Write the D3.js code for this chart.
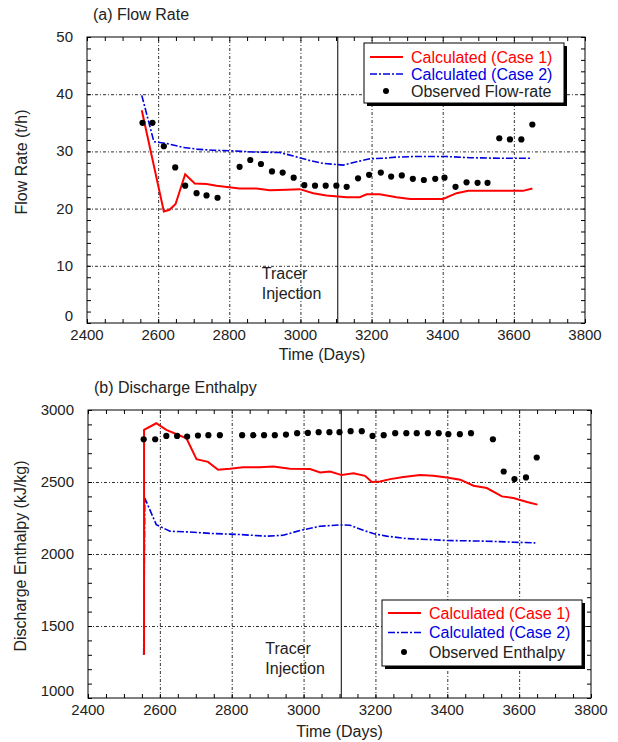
<html><head>
<meta charset="utf-8">
<title>Flow rate and discharge enthalpy</title>
<style type="text/css">
    body {margin:0; background:#fff}
    text {font-family:"Liberation Sans", Arial, sans-serif; fill:#222}
</style>
</head>
<body>
<script src="https://d3js.org/d3.v7.min.js"></script>
<script>
    // tick labels
    var xTicks = [2400, 2600, 2800, 3000, 3200, 3400, 3600, 3800];
    var flowTicks = [0, 10, 20, 30, 40, 50];
    var enthalpyTicks = [1000, 1500, 2000, 2500, 3000];
    var tracerDay = 3105;

    // (a) flow rate, [day, t/h]
    var flowCase1 = [[2554,37.2],[2616,19.5],[2632,19.8],[2649,20.8],[2676,26.0],[2703,24.4],[2736,24.3],[2764,24.0],
        [2829,23.5],[2876,23.5],[2914,23.2],[2961,23.3],[2998,23.4],[3036,22.7],[3073,22.3],[3130,22.0],[3167,22.0],
        [3186,22.5],[3223,22.5],[3270,22.0],[3308,21.7],[3401,21.7],[3439,22.7],[3472,23.1],[3551,23.1],[3626,23.1],[3652,23.5]];
    var flowCase2 = [[2554,39.8],[2588,31.7],[2623,31.4],[2670,30.7],[2708,30.4],[2754,30.2],[2811,30.1],[2867,29.9],
        [2942,29.8],[2980,29.2],[3026,28.4],[3064,27.9],[3120,27.6],[3158,28.2],[3195,28.7],[3233,28.8],[3270,29.0],
        [3317,29.1],[3411,29.1],[3476,28.9],[3561,28.8],[3650,28.8]];
    var flowObserved = [[2556,35.0],[2584,35.0],[2616,30.9],[2648,27.2],[2676,24.0],[2708,22.7],[2736,22.3],[2767,21.9],
        [2829,27.3],[2859,28.5],[2889,27.8],[2920,26.5],[2950,26.3],[2981,25.4],[3011,24.1],[3041,24.0],[3071,24.0],
        [3101,24.0],[3130,23.8],[3162,25.3],[3193,25.9],[3226,26.3],[3255,25.6],[3285,25.8],[3316,25.2],[3347,25.0],
        [3379,25.2],[3405,25.4],[3436,23.8],[3467,24.6],[3498,24.5],[3526,24.5],[3559,32.3],[3589,32.1],[3621,32.1],[3652,34.7]];

    // (b) discharge enthalpy, [day, kJ/kg]
    var enthCase1 = [[2556,1300],[2556,2862],[2590,2908],[2618,2862],[2674,2804],[2702,2659],[2734,2640],[2762,2585],
        [2795,2592],[2832,2603],[2878,2603],[2916,2608],[2962,2592],[3018,2590],[3046,2566],[3074,2573],[3106,2548],
        [3139,2560],[3171,2543],[3190,2500],[3213,2504],[3241,2520],[3278,2534],[3324,2548],[3361,2543],[3399,2532],
        [3436,2516],[3473,2474],[3510,2458],[3552,2400],[3584,2389],[3622,2361],[3651,2343]];
    var enthCase2 = [[2555,1300],[2558,2389],[2590,2204],[2628,2158],[2683,2153],[2748,2142],[2823,2135],[2897,2124],
        [2943,2130],[2990,2163],[3046,2193],[3101,2202],[3129,2200],[3166,2165],[3194,2142],[3231,2124],[3287,2107],
        [3352,2100],[3399,2094],[3510,2089],[3585,2082],[3645,2077]];
    var enthObserved = [[2555,2797],[2587,2797],[2618,2820],[2648,2820],[2676,2816],[2706,2823],[2735,2825],[2767,2825],
        [2829,2825],[2860,2825],[2890,2825],[2920,2825],[2951,2829],[2982,2839],[3012,2841],[3042,2846],[3072,2846],
        [3100,2846],[3131,2853],[3162,2853],[3192,2820],[3223,2825],[3255,2839],[3286,2839],[3315,2839],[3346,2839],
        [3376,2839],[3403,2832],[3435,2832],[3466,2839],[3527,2797],[3557,2573],[3587,2520],[3619,2532],[3649,2670]];

    var red = "#ff0000", blue = "#0000e0";

    var svg = d3.select("body").append("svg")
        .attr("width", 618)
        .attr("height", 742);

    function drawPanel(p) {
        var x = d3.scaleLinear().domain([2400, 3800]).range([p.left, p.right]);
        var y = d3.scaleLinear().domain(p.yDomain).range([p.bottom, p.top]);
        var g = svg.append("g");
        var w = p.right - p.left, h = p.bottom - p.top;

        // grid
        g.append("g").attr("transform", "translate(0," + p.bottom + ")")
            .call(d3.axisBottom(x).tickValues(xTicks.slice(1, -1)).tickSize(-h).tickFormat(""))
            .call(function(s){ s.select(".domain").remove(); });
        g.append("g").attr("transform", "translate(" + p.left + ",0)")
            .call(d3.axisLeft(y).tickValues(p.yTicks.slice(1, -1)).tickSize(-w).tickFormat(""))
            .call(function(s){ s.select(".domain").remove(); });
        g.selectAll(".tick line").attr("stroke", "#333").attr("stroke-dasharray", "3,2,1,2");

        // small inward ticks on all sides
        var xm = d3.range(2400, 3801, 50), ym = d3.range(p.yDomain[0], p.yDomain[1] + 1, p.yMinor);
        [[d3.axisBottom(x).tickValues(xm), p.bottom], [d3.axisTop(x).tickValues(xm), p.top]].forEach(function(a){
            g.append("g").attr("transform", "translate(0," + a[1] + ")")
                .call(a[0].tickSize(-4).tickFormat(""))
                .call(function(s){ s.select(".domain").remove(); s.selectAll("line").attr("stroke", "#000"); });
        });
        [[d3.axisLeft(y).tickValues(ym), p.left], [d3.axisRight(y).tickValues(ym), p.right]].forEach(function(a){
            g.append("g").attr("transform", "translate(" + a[1] + ",0)")
                .call(a[0].tickSize(-4).tickFormat(""))
                .call(function(s){ s.select(".domain").remove(); s.selectAll("line").attr("stroke", "#000"); });
        });

        // frame
        g.append("rect").attr("x", p.left).attr("y", p.top).attr("width", w).attr("height", h)
            .attr("fill", "none").attr("stroke", "#000");

        // tick labels (lowest y label nudged up so it clears the first x label)
        g.selectAll(".xl").data(xTicks).enter().append("text")
            .attr("x", function(d){ return x(d); })
            .attr("y", p.bottom + p.xLabelGap)
            .attr("text-anchor", "middle").attr("font-size", 15)
            .text(function(d){ return d; });
        g.selectAll(".yl").data(p.yTicks).enter().append("text")
            .attr("x", p.left - 14)
            .attr("y", function(d, i){ return y(d) + (i == 0 ? -2 : 5); })
            .attr("text-anchor", "end").attr("font-size", 15)
            .text(function(d){ return d; });

        // titles
        g.append("text").attr("x", p.left + 6).attr("y", p.top - 17)
            .attr("font-size", 16).text(p.title);
        g.append("text").attr("x", (p.left + p.right) / 2 - p.xTitleShift).attr("y", p.bottom + p.xTitleGap)
            .attr("text-anchor", "middle").attr("font-size", 16).text("Time (Days)");
        g.append("text").attr("transform", "translate(" + p.yTitleX + "," + p.yTitleY + ") rotate(-90)")
            .attr("text-anchor", "middle").attr("font-size", 16).text(p.yTitle);

        // tracer injection
        g.append("line").attr("x1", x(tracerDay)).attr("x2", x(tracerDay))
            .attr("y1", p.top).attr("y2", p.bottom).attr("stroke", "#000");
        g.append("text").attr("x", x(tracerDay) - 76).attr("y", p.bottom - 44)
            .attr("font-size", 16).text("Tracer");
        g.append("text").attr("x", x(tracerDay) - 76).attr("y", p.bottom - 24)
            .attr("font-size", 16).text("Injection");

        // series
        var line = d3.line().x(function(d){ return x(d[0]); }).y(function(d){ return y(d[1]); });
        g.append("path").datum(p.case2).attr("d", line)
            .attr("fill", "none").attr("stroke", blue).attr("stroke-width", 1.6)
            .attr("stroke-dasharray", "7,2,2,2");
        g.append("path").datum(p.case1).attr("d", line)
            .attr("fill", "none").attr("stroke", red).attr("stroke-width", 2);
        g.selectAll(".obs").data(p.observed).enter().append("circle")
            .attr("cx", function(d){ return x(d[0]); })
            .attr("cy", function(d){ return y(d[1]); })
            .attr("r", 3.1).attr("fill", "#000");

        // legend
        var L = p.legend;
        g.append("rect").attr("x", L.x + 3).attr("y", L.y + 3).attr("width", L.w).attr("height", L.h).attr("fill", "#000");
        g.append("rect").attr("x", L.x).attr("y", L.y).attr("width", L.w).attr("height", L.h)
            .attr("fill", "#fff").attr("stroke", "#000");
        var items = [
            {name: "Calculated (Case 1)", color: red, type: "solid"},
            {name: "Calculated (Case 2)", color: blue, type: "dash"},
            {name: p.obsName, color: "#222", type: "dot"}
        ];
        items.forEach(function(it, i){
            var ry = L.y + L.row0 + i * L.rowGap;
            if (it.type == "dot") {
                g.append("circle").attr("cx", L.x + 22).attr("cy", ry).attr("r", 3).attr("fill", "#000");
            } else {
                g.append("line").attr("x1", L.x + 6).attr("x2", L.x + 39).attr("y1", ry).attr("y2", ry)
                    .attr("stroke", it.color).attr("stroke-width", it.type == "solid" ? 2 : 1.6)
                    .attr("stroke-dasharray", it.type == "solid" ? null : "7,2,2,2");
            }
            g.append("text").attr("x", L.x + 47).attr("y", ry + 5.5)
                .attr("font-size", 16).style("fill", it.color).text(it.name);
        });
    }

    drawPanel({
        left: 87, right: 585, top: 37, bottom: 323,
        yDomain: [0, 50], yTicks: flowTicks, yMinor: 2,
        title: "(a) Flow Rate", yTitle: "Flow Rate (t/h)", yTitleX: 27, yTitleY: 162,
        xLabelGap: 17, xTitleGap: 37, xTitleShift: 14,
        case1: flowCase1, case2: flowCase2, observed: flowObserved, obsName: "Observed Flow-rate",
        legend: {x: 364, y: 43, w: 200, h: 60, row0: 14, rowGap: 17}
    });

    drawPanel({
        left: 88, right: 591, top: 410, bottom: 698,
        yDomain: [1000, 3000], yTicks: enthalpyTicks, yMinor: 100,
        title: "(b) Discharge Enthalpy", yTitleX: 26, yTitleY: 556, yTitle: "Discharge Enthalpy (kJ/kg)",
        xLabelGap: 17, xTitleGap: 39, xTitleShift: 0,
        case1: enthCase1, case2: enthCase2, observed: enthObserved, obsName: "Observed Enthalpy",
        legend: {x: 382, y: 600, w: 200, h: 66, row0: 13, rowGap: 19.5}
    });
</script>
</body></html>
